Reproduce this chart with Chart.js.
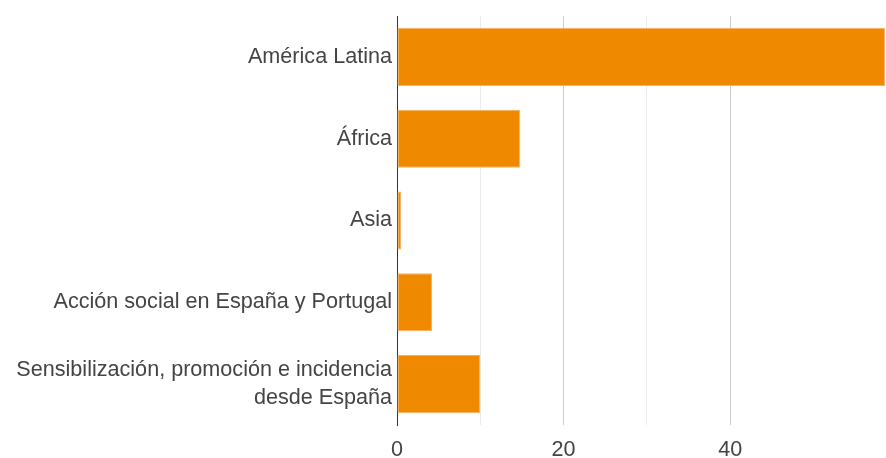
<!DOCTYPE html>
<html>
<head>
<meta charset="utf-8">
<script src="https://cdn.jsdelivr.net/npm/chart.js@4/dist/chart.umd.min.js"></script>
<style>
  html, body { margin: 0; padding: 0; background: #fff; }
  #wrap { width: 886px; height: 458px; }
</style>
</head>
<body>
<div id="wrap"><canvas id="regionChart"></canvas></div>
<script>
const regions = [
    'América Latina',
    'África',
    'Asia',
    'Acción social en España y Portugal',
    ['Sensibilización, promoción e incidencia', 'desde España']
];
const shares = [58.6, 14.8, 0.5, 4.2, 10];
const xTicks = [0, 20, 40];

const ctx = document.getElementById('regionChart').getContext('2d');
const chart = new Chart(ctx, {
    type: 'bar',
    data: {
        labels: regions,
        datasets: [{
            data: shares,
            backgroundColor: '#ef8a00',
            borderColor: '#f5b060',
            borderWidth: 1,
            borderSkipped: false,
            categoryPercentage: 1,
            barPercentage: 0.71
        }]
    },
    options: {
        indexAxis: 'y',
        responsive: true,
        maintainAspectRatio: false,
        animation: false,
        layout: { padding: { top: 16, right: 0, left: 0, bottom: 0 } },
        plugins: {
            legend: { display: false },
            tooltip: { enabled: false }
        },
        scales: {
            x: {
                min: 0,
                max: 58.7,
                ticks: {
                    stepSize: 10,
                    autoSkip: false,
                    maxRotation: 0,
                    padding: 12,
                    color: '#444',
                    font: { family: 'Liberation Sans, Arial, sans-serif', size: 21.6 },
                    callback: v => xTicks.includes(v) ? String(v) : ''
                },
                grid: {
                    drawTicks: false,
                    color: c => (c.tick && c.tick.value % 20 === 0) ? '#cccccc' : '#ebebeb',
                    lineWidth: 1
                },
                border: { display: false },
                afterFit: s => { s.height = 33; s.paddingLeft = 0; s.paddingRight = 0; }
            },
            y: {
                ticks: {
                    padding: 5,
                    color: '#444',
                    font: { family: 'Liberation Sans, Arial, sans-serif', size: 21.6, lineHeight: 1.3 }
                },
                grid: { display: false, drawTicks: false },
                border: { display: true, color: '#333', width: 1 },
                afterFit: s => { s.width = 397; s.paddingTop = 0; s.paddingBottom = 0; }
            }
        }
    }
});
</script>
</body>
</html>
